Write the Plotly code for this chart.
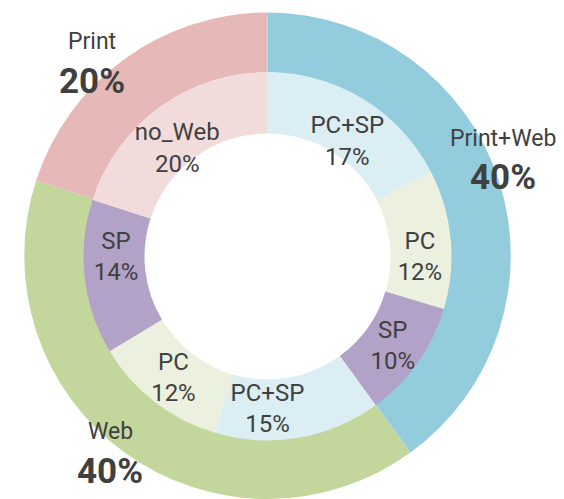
import plotly.graph_objects as go

# ---- data ----
outer_names = ["Print+Web", "Web", "Print"]
outer_values = [40, 40, 20]
inner_names = ["PC+SP", "PC", "SP", "PC+SP", "PC", "SP", "no_Web"]
inner_values = [17.4, 12.2, 10.4, 14.6, 11.8, 13.6, 20.0]

outer_colors = ["#93cddd", "#c3d69b", "#e6b9b8"]
inner_colors = ["#daeef3", "#ebf1de", "#b3a2c7", "#daeef3", "#ebf1de", "#b3a2c7", "#f2dcdb"]

OFF = 8                       # page body margin
W, H = 564 - OFF, 499 - OFF   # figure size so that it fills the window
CX, CY = 267.5 - OFF, 256.5 - OFF   # centre in figure pixels
R_OUT, R_MID, R_IN = 244.0, 184.0, 123.0
FONT = "Roboto, Noto Sans, sans-serif"
BOLD_FONT = "Liberation Sans Narrow, Roboto, sans-serif"
TXT = "#404040"


def dom(r):
    x = [max(0.0, (CX - r) / W), min(1.0, (CX + r) / W)]
    yc = (H - CY) / H
    y = [max(0.0, yc - r / H), min(1.0, yc + r / H)]
    return dict(x=x, y=y)


# labels of the two slices at the top sit a little lower in the original
base_tpl = "%{text}<br>%{percent:.0%}"
templates = [base_tpl] * len(inner_values)
templates[0] = "&nbsp;<br>" + base_tpl
templates[-1] = "&nbsp;<br>" + base_tpl

fig = go.Figure()
fig.add_trace(go.Pie(
    values=outer_values, text=outer_names,
    marker=dict(colors=outer_colors, line=dict(width=0)),
    hole=R_MID / R_OUT, sort=False, direction="clockwise", rotation=0,
    textinfo="none", domain=dom(R_OUT), showlegend=False, hoverinfo="text+percent",
))
fig.add_trace(go.Pie(
    values=inner_values, text=inner_names,
    marker=dict(colors=inner_colors, line=dict(width=0)),
    hole=R_IN / R_MID, sort=False, direction="clockwise", rotation=0,
    texttemplate=templates, textposition="inside",
    insidetextorientation="horizontal",
    textfont=dict(family=FONT, size=24, color=TXT),
    domain=dom(R_MID), showlegend=False, hoverinfo="text+percent",
))

# outer ring labels (window pixel positions of name / percent)
label_pos = {"Print+Web": (503, 138, 178), "Web": (110, 431, 471), "Print": (92, 42, 81)}
annotations = []
for name, val in zip(outer_names, outer_values):
    x, y1, y2 = label_pos[name]
    annotations.append(dict(x=(x - OFF) / W, y=1 - (y1 - OFF) / H, xref="paper", yref="paper", text=name,
                            showarrow=False, font=dict(family=FONT, size=23, color=TXT),
                            xanchor="center", yanchor="middle"))
    annotations.append(dict(x=(x - OFF) / W, y=1 - (y2 - OFF) / H, xref="paper", yref="paper",
                            text=f"<b>{val}%</b>",
                            showarrow=False, font=dict(family=BOLD_FONT, size=35, color=TXT),
                            xanchor="center", yanchor="middle"))

fig.update_layout(
    width=W, height=H, margin=dict(l=0, r=0, t=0, b=0),
    paper_bgcolor="white", plot_bgcolor="white",
    uniformtext=dict(minsize=24, mode="show"),
    annotations=annotations,
)
fig.write_html("out.html")
